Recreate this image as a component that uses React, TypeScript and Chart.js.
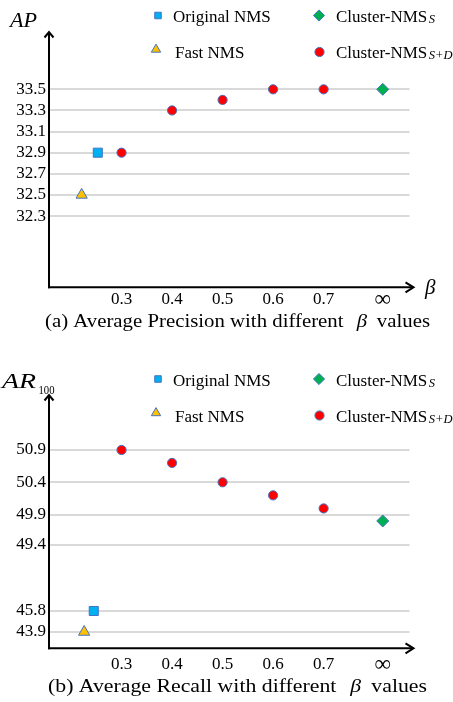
import React, { useEffect, useRef } from 'react';
import { Chart, registerables, LinearScale } from 'chart.js';

// ---------------- data ----------------
const BETA_LABELS = ['0.3', '0.4', '0.5', '0.6', '0.7', '∞'];
const BETA_AXIS_POS = [0.3, 0.4, 0.5, 0.6, 0.7, 0.817];
const SD_BETAS = [0.3, 0.4, 0.5, 0.6, 0.7];
const S_BETA = 0.817; // β = ∞

const AP_TICKS = [32.3, 32.5, 32.7, 32.9, 33.1, 33.3, 33.5];
const AP_ORIGINAL_NMS = 32.9;
const AP_FAST_NMS = 32.5;
const AP_CLUSTER_S = 33.5;
const AP_CLUSTER_SD = [32.9, 33.3, 33.4, 33.5, 33.5];
const AP_ORIGINAL_X = 0.253;
const AP_FAST_X = 0.221;

const AR_TICKS = [43.9, 45.8, 49.4, 49.9, 50.4, 50.9];
const AR_ORIGINAL_NMS = 45.8;
const AR_FAST_NMS = 43.9;
const AR_CLUSTER_S = 49.8;
const AR_CLUSTER_SD = [50.9, 50.7, 50.4, 50.2, 50.0];
const AR_ORIGINAL_X = 0.245;
const AR_FAST_X = 0.226;
// broken (ordinal-like) AR axis: fraction of axis height at each tick value
const AR_TICK_FRACS = [0.0644, 0.1473, 0.4078, 0.5263, 0.6554, 0.7829];

const LEGEND_NAMES = ['Original NMS', 'Fast NMS', 'Cluster-NMS', 'Cluster-NMS'];
const LEGEND_SUBS = ['', '', 'S', 'S+D'];

// ---------------- styling ----------------
const W = 453;
const SERIF = '"Liberation Serif", "Times New Roman", serif';
const GRID = '#D9D9D9';
const EDGE = '#4472C4';
const C_ORIG = '#00B0F0';
const C_FAST = '#FFC000';
const C_S = '#00B050';
const C_SD = '#FF0000';
const X_MIN = 0.1564;
const X_MAX = 0.870;
const RIGHT = 409.5;

// piecewise-linear scale for the broken AR axis
class PiecewiseScale extends LinearScale {
  static id = 'piecewise';
  static defaults = LinearScale.defaults;
  toDecimal(v: number) {
    const o: any = this.options;
    const vs: number[] = o.breakValues;
    const fs: number[] = o.breakFractions;
    const n = vs.length;
    let i = 0;
    if (v >= vs[n - 1]) i = n - 2;
    else while (i < n - 2 && v > vs[i + 1]) i++;
    const t = (v - vs[i]) / (vs[i + 1] - vs[i]);
    return fs[i] + t * (fs[i + 1] - fs[i]);
  }
  getPixelForValue(value: number) {
    if (value === null || value === undefined || isNaN(value)) return NaN;
    return this.getPixelForDecimal(this.toDecimal(value));
  }
  getValueForPixel(pixel: number) {
    const d = this.getDecimalForPixel(pixel);
    const o: any = this.options;
    const vs: number[] = o.breakValues;
    const fs: number[] = o.breakFractions;
    const n = vs.length;
    let i = 0;
    if (d >= fs[n - 1]) i = n - 2;
    else while (i < n - 2 && d > fs[i + 1]) i++;
    const t = (d - fs[i]) / (fs[i + 1] - fs[i]);
    return vs[i] + t * (vs[i + 1] - vs[i]);
  }
}

Chart.register(...registerables, PiecewiseScale);

function drawMarker(ctx: CanvasRenderingContext2D, style: string, x: number, y: number, r: number, fill: string) {
  ctx.beginPath();
  if (style === 'rect') {
    const s = r * Math.SQRT1_2;
    ctx.rect(x - s, y - s, 2 * s, 2 * s);
  } else if (style === 'triangle') {
    for (let k = 0; k < 3; k++) {
      const a = (k * 2 * Math.PI) / 3;
      const px = x + Math.sin(a) * r;
      const py = y - Math.cos(a) * r;
      if (k === 0) ctx.moveTo(px, py);
      else ctx.lineTo(px, py);
    }
    ctx.closePath();
  } else if (style === 'rectRot') {
    ctx.moveTo(x, y - r);
    ctx.lineTo(x + r, y);
    ctx.lineTo(x, y + r);
    ctx.lineTo(x - r, y);
    ctx.closePath();
  } else {
    ctx.arc(x, y, r, 0, Math.PI * 2);
  }
  ctx.fillStyle = fill;
  ctx.fill();
  ctx.lineWidth = 1;
  ctx.strokeStyle = EDGE;
  ctx.stroke();
}

// draw text stretched horizontally so that it spans a target width
function fillStretched(ctx: CanvasRenderingContext2D, text: string, x: number, y: number, targetW: number) {
  const w = ctx.measureText(text).width;
  const k = targetW / w;
  ctx.save();
  ctx.translate(x, y);
  ctx.scale(k, 1);
  ctx.fillText(text, 0, 0);
  ctx.restore();
}

type Spec = {
  height: number;
  top: number;
  axisBottom: number;
  tickPad: number;
  legendDy: number;
  captionLabel: string;
  captionY: number;
  captionLeft: number;
  captionRight: number;
  showBeta: boolean;
  titleKind: 'AP' | 'AR';
  y: any;
  datasets: any[];
};

function makeDatasets(orig: number, origX: number, fast: number, fastX: number, s: number, sd: number[]) {
  return [
    {
      label: 'Cluster-NMS S+D',
      data: SD_BETAS.map((b, i) => ({ x: b, y: sd[i] })),
      pointStyle: 'circle', pointRadius: 4.6, pointBackgroundColor: C_SD, pointBorderColor: EDGE, pointBorderWidth: 1,
    },
    {
      label: 'Cluster-NMS S',
      data: [{ x: S_BETA, y: s }],
      pointStyle: 'rectRot', pointRadius: 6, pointBackgroundColor: C_S, pointBorderColor: EDGE, pointBorderWidth: 1,
    },
    {
      label: 'Original NMS',
      data: [{ x: origX, y: orig }],
      pointStyle: 'rect', pointRadius: 6.4, pointBackgroundColor: C_ORIG, pointBorderColor: EDGE, pointBorderWidth: 1,
    },
    {
      label: 'Fast NMS',
      data: [{ x: fastX, y: fast }],
      pointStyle: 'triangle', pointRadius: 6.5, pointBackgroundColor: C_FAST, pointBorderColor: EDGE, pointBorderWidth: 1,
    },
  ];
}

function PlotCanvas({ spec }: { spec: Spec }) {
  const ref = useRef<HTMLCanvasElement>(null);
  useEffect(() => {
    const decor = {
      id: 'decor',
      beforeDatasetsDraw(chart: any) {
        const { ctx, chartArea: a } = chart;
        ctx.save();
        ctx.strokeStyle = '#000';
        ctx.lineWidth = 2;
        ctx.lineJoin = 'miter';
        ctx.beginPath();
        ctx.moveTo(a.left, a.bottom + 1);
        ctx.lineTo(a.left, a.top + 0.5);
        ctx.stroke();
        ctx.beginPath();
        ctx.moveTo(a.left - 4.5, a.top + 5.5);
        ctx.lineTo(a.left, a.top);
        ctx.lineTo(a.left + 4.5, a.top + 5.5);
        ctx.stroke();
        ctx.beginPath();
        ctx.moveTo(a.left - 1, a.bottom);
        ctx.lineTo(a.right + 3.5, a.bottom);
        ctx.stroke();
        ctx.beginPath();
        ctx.moveTo(a.right - 4, a.bottom - 5);
        ctx.lineTo(a.right + 4, a.bottom);
        ctx.lineTo(a.right - 4, a.bottom + 5);
        ctx.stroke();
        ctx.restore();
      },
      afterDraw(chart: any) {
        const { ctx, chartArea: a } = chart;
        ctx.save();
        ctx.fillStyle = '#000';
        ctx.textBaseline = 'alphabetic';
        ctx.textAlign = 'left';
        // y-axis title
        if (spec.titleKind === 'AP') {
          ctx.font = `italic 20px ${SERIF}`;
          fillStretched(ctx, 'AP', 10, 27, 27);
        } else {
          ctx.font = `italic 21px ${SERIF}`;
          fillStretched(ctx, 'AR', 2, 38, 34);
          ctx.font = `12.5px ${SERIF}`;
          fillStretched(ctx, '100', 38.5, 43.5, 16);
        }
        // x-axis symbol
        if (spec.showBeta) {
          ctx.font = `italic 21px ${SERIF}`;
          ctx.fillText('β', 425, a.bottom + 7);
        }
        // legend
        const dy = spec.legendDy;
        const rows = [
          { style: 'rect', mx: 158, my: 15.5, r: 4.6, fill: C_ORIG, tx: 173, ty: 22 },
          { style: 'triangle', mx: 156, my: 49.5, r: 5.4, fill: C_FAST, tx: 175, ty: 58 },
          { style: 'rectRot', mx: 319, my: 15.5, r: 5.6, fill: C_S, tx: 336, ty: 22 },
          { style: 'circle', mx: 319.5, my: 52, r: 4.6, fill: C_SD, tx: 336, ty: 58 },
        ];
        rows.forEach((r, i) => {
          drawMarker(ctx, r.style, r.mx, r.my + dy, r.r, r.fill);
          ctx.fillStyle = '#000';
          ctx.font = `17px ${SERIF}`;
          ctx.fillText(LEGEND_NAMES[i], r.tx, r.ty + dy);
          if (LEGEND_SUBS[i]) {
            const w = ctx.measureText(LEGEND_NAMES[i]).width;
            ctx.font = `italic 12.5px ${SERIF}`;
            ctx.fillText(LEGEND_SUBS[i], r.tx + w + 1.5, r.ty + dy + 1);
          }
        });
        // caption (stretched to the reference width)
        const p1 = `(${spec.captionLabel}) Average ${spec.titleKind === 'AP' ? 'Precision' : 'Recall'} with different`;
        const p2 = 'β';
        const p3 = 'values';
        const FS = 19;
        ctx.font = `${FS}px ${SERIF}`;
        const w1 = ctx.measureText(p1).width;
        const w3 = ctx.measureText(p3).width;
        ctx.font = `italic ${FS}px ${SERIF}`;
        const w2 = ctx.measureText(p2).width;
        const g1 = 12;
        const g2 = 9;
        const total = w1 + g1 + w2 + g2 + w3;
        const k = (spec.captionRight - spec.captionLeft) / total;
        ctx.translate(spec.captionLeft, spec.captionY);
        ctx.scale(k, 1);
        let x = 0;
        ctx.font = `${FS}px ${SERIF}`;
        ctx.fillText(p1, x, 0);
        x += w1 + g1;
        ctx.font = `italic ${FS}px ${SERIF}`;
        ctx.fillText(p2, x, 0);
        x += w2 + g2;
        ctx.font = `${FS}px ${SERIF}`;
        ctx.fillText(p3, x, 0);
        ctx.restore();
      },
    };

    const chart = new Chart(ref.current as HTMLCanvasElement, {
      type: 'scatter',
      data: { datasets: spec.datasets },
      options: {
        animation: false,
        responsive: false,
        devicePixelRatio: 1,
        layout: { padding: { top: spec.top, right: W - RIGHT, bottom: 0, left: 0 }, autoPadding: false },
        plugins: { legend: { display: false }, tooltip: { enabled: false } },
        scales: {
          x: {
            type: 'linear',
            min: X_MIN,
            max: X_MAX,
            border: { display: false },
            grid: { display: false, drawTicks: false },
            ticks: {
              autoSkip: false,
              maxRotation: 0,
              padding: spec.tickPad,
              color: '#000',
              font: (c: any) =>
                c.index === 5
                  ? { family: SERIF, size: 23, lineHeight: (17 * 1.2) / 23 }
                  : { family: SERIF, size: 17, lineHeight: 1.2 },
              callback: (_v: any, i: number) => BETA_LABELS[i],
            },
            afterBuildTicks: (s: any) => {
              s.ticks = BETA_AXIS_POS.map((v) => ({ value: v }));
            },
            afterFit: (s: any) => {
              s.height = spec.height - spec.axisBottom;
            },
          },
          y: {
            ...spec.y,
            border: { display: false },
            grid: { color: GRID, lineWidth: 2, drawTicks: false },
            ticks: {
              autoSkip: false,
              padding: 3,
              color: '#000',
              font: { family: SERIF, size: 17 },
              callback: (v: any) => Number(v).toFixed(1),
            },
            afterFit: (s: any) => {
              s.width = 49;
            },
          },
        },
      },
      plugins: [decor],
    } as any);
    return () => chart.destroy();
  }, []);
  return <canvas ref={ref} width={W} height={spec.height} style={{ display: 'block', width: W, height: spec.height }} />;
}

const TOP_SPEC: Spec = {
  height: 350,
  top: 32,
  axisBottom: 287.3,
  tickPad: 2,
  legendDy: 0,
  captionLabel: 'a',
  captionY: 327,
  captionLeft: 45,
  captionRight: 430,
  showBeta: true,
  titleKind: 'AP',
  y: {
    type: 'linear',
    min: 31.625,
    max: 34.043,
    afterBuildTicks: (s: any) => {
      s.ticks = AP_TICKS.map((v) => ({ value: v }));
    },
  },
  datasets: makeDatasets(AP_ORIGINAL_NMS, AP_ORIGINAL_X, AP_FAST_NMS, AP_FAST_X, AP_CLUSTER_S, AP_CLUSTER_SD),
};

const BOTTOM_SPEC: Spec = {
  height: 352,
  top: 45,
  axisBottom: 298.3,
  tickPad: 6,
  legendDy: 13.5,
  captionLabel: 'b',
  captionY: 342,
  captionLeft: 48,
  captionRight: 427,
  showBeta: false,
  titleKind: 'AR',
  y: {
    type: 'piecewise',
    min: 42,
    max: 52,
    breakValues: AR_TICKS,
    breakFractions: AR_TICK_FRACS,
    afterBuildTicks: (s: any) => {
      s.ticks = AR_TICKS.map((v) => ({ value: v }));
    },
  },
  datasets: makeDatasets(AR_ORIGINAL_NMS, AR_ORIGINAL_X, AR_FAST_NMS, AR_FAST_X, AR_CLUSTER_S, AR_CLUSTER_SD),
};

export default function App() {
  return (
    <div style={{ position: 'absolute', left: 0, top: 0, width: W, height: 702, background: '#fff' }}>
      <PlotCanvas spec={TOP_SPEC} />
      <PlotCanvas spec={BOTTOM_SPEC} />
    </div>
  );
}
